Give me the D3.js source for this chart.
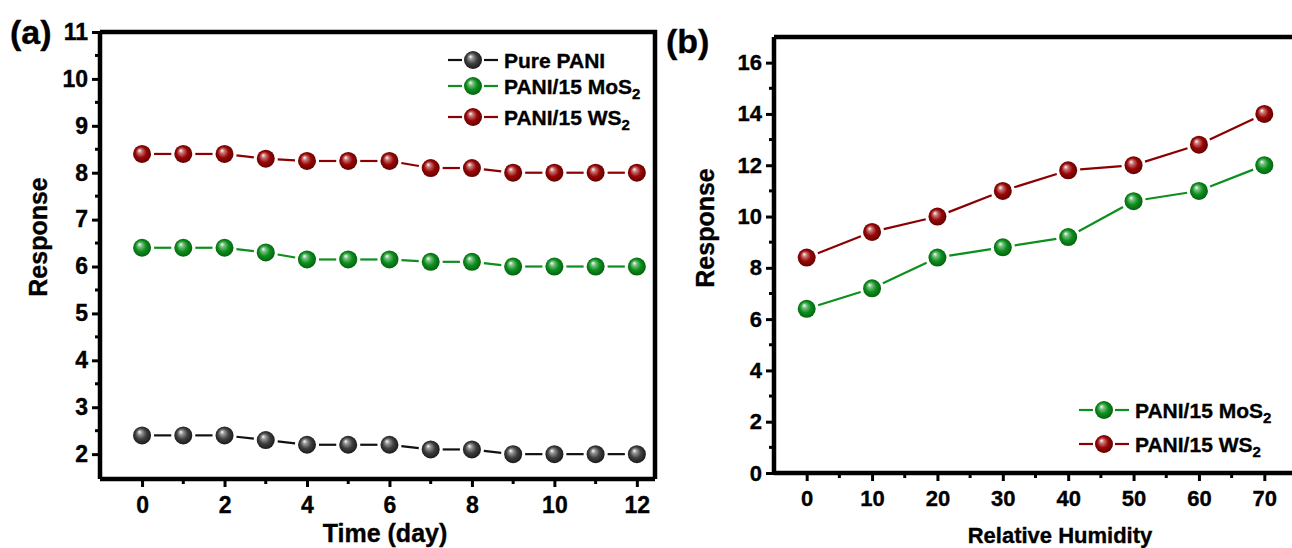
<!DOCTYPE html>
<html><head><meta charset="utf-8">
<script src="https://cdn.jsdelivr.net/npm/d3@7"></script>
<style>
html,body{margin:0;padding:0;background:#fff;}
svg{display:block;}
text{font-family:"Liberation Sans",Arial,sans-serif;font-weight:bold;fill:#000;stroke:#000;stroke-width:0.35px;}
</style></head>
<body>
<svg id="chart" width="1292" height="548"></svg>
<script>
// ---------- data ----------
const days = [0,1,2,3,4,5,6,7,8,9,10,11,12];
const purePani = [2.4,2.4,2.4,2.3,2.2,2.2,2.2,2.1,2.1,2.0,2.0,2.0,2.0];
const paniMoS2Time = [6.4,6.4,6.4,6.3,6.15,6.15,6.15,6.1,6.1,6.0,6.0,6.0,6.0];
const paniWS2Time = [8.4,8.4,8.4,8.3,8.25,8.25,8.25,8.1,8.1,8.0,8.0,8.0,8.0];
const humidity = [0,10,20,30,40,50,60,70];
const paniMoS2RH = [6.4,7.2,8.4,8.8,9.2,10.6,11.0,12.0];
const paniWS2RH = [8.4,9.4,10.0,11.0,11.8,12.0,12.8,14.0];
const ticksATimeX = [0,2,4,6,8,10,12];
const ticksAY = [2,3,4,5,6,7,8,9,10,11];
const ticksBX = [0,10,20,30,40,50,60,70];
const ticksBY = [0,2,4,6,8,10,12,14,16];

const svg = d3.select("#chart");
const defs = svg.append("defs");
const colors = {gray:{base:"#404040",dark:"#141414",line:"#111"},
                green:{base:"#0d8f1e",dark:"#045a0c",line:"#0d8f1e"},
                red:{base:"#9a0606",dark:"#5a0000",line:"#8b0000"}};
Object.entries(colors).forEach(([k,c])=>{
  const g = defs.append("radialGradient").attr("id","sph-"+k)
    .attr("cx","50%").attr("cy","50%").attr("r","55%").attr("fx","35%").attr("fy","30%");
  g.append("stop").attr("offset","0%").attr("stop-color","#fff");
  g.append("stop").attr("offset","22%").attr("stop-color",d3.interpolateRgb("#fff",c.base)(0.55));
  g.append("stop").attr("offset","55%").attr("stop-color",c.base);
  g.append("stop").attr("offset","100%").attr("stop-color",c.dark);
});

const R = 9;
function drawSeries(g, xs, ys, x, y, key){
  const c = colors[key];
  const pts = xs.map((d,i)=>[x(d), y(ys[i])]);
  for(let i=0;i<pts.length-1;i++){
    const [x1,y1]=pts[i],[x2,y2]=pts[i+1];
    const dx=x2-x1, dy=y2-y1, L=Math.hypot(dx,dy), g0=R+3;
    if(L<=2*g0) continue;
    g.append("line").attr("x1",x1+dx/L*g0).attr("y1",y1+dy/L*g0)
      .attr("x2",x2-dx/L*g0).attr("y2",y2-dy/L*g0)
      .attr("stroke",c.line).attr("stroke-width",2.2);
  }
  g.selectAll(null).data(pts).enter().append("circle")
    .attr("cx",d=>d[0]).attr("cy",d=>d[1]).attr("r",R)
    .attr("fill","url(#sph-"+key+")");
}

function legendItem(g, x0, yc, key, label, sub){
  const c = colors[key];
  g.append("line").attr("x1",x0).attr("x2",x0+14).attr("y1",yc).attr("y2",yc).attr("stroke",c.line).attr("stroke-width",2.2);
  g.append("line").attr("x1",x0+36).attr("x2",x0+50).attr("y1",yc).attr("y2",yc).attr("stroke",c.line).attr("stroke-width",2.2);
  g.append("circle").attr("cx",x0+25).attr("cy",yc).attr("r",R).attr("fill","url(#sph-"+key+")");
  const t = g.append("text").attr("x",x0+56).attr("y",yc+7.5).style("font-size","21px").text(label);
  if(sub){ t.append("tspan").attr("dy",5).style("font-size","15px").text(sub); }
}

function panel(opt){
  const g = svg.append("g");
  const x = d3.scaleLinear().domain(opt.xDom).range([opt.left, opt.right]);
  const y = d3.scaleLinear().domain(opt.yDom).range([opt.bottom, opt.top]);
  opt.xMinor.forEach(v=>g.append("line").attr("x1",x(v)).attr("x2",x(v)).attr("y1",opt.bottom).attr("y2",opt.bottom+5).attr("stroke","#000").attr("stroke-width",3));
  opt.yMinor.forEach(v=>g.append("line").attr("y1",y(v)).attr("y2",y(v)).attr("x1",opt.left).attr("x2",opt.left-5).attr("stroke","#000").attr("stroke-width",3));
  const xa = g.append("g").attr("transform",`translate(0,${opt.bottom})`)
    .call(d3.axisBottom(x).tickValues(opt.xTicks).tickSize(8).tickPadding(opt.xPad).tickSizeOuter(0));
  const ya = g.append("g").attr("transform",`translate(${opt.left},0)`)
    .call(d3.axisLeft(y).tickValues(opt.yTicks).tickSize(8).tickPadding(4).tickSizeOuter(0));
  [xa,ya].forEach(a=>{
    a.attr("font-size",null).attr("font-family",null);
    a.select(".domain").remove();
    a.selectAll(".tick line").attr("stroke","#000").attr("stroke-width",3);
    a.selectAll(".tick text").style("font-size",opt.tickFont).attr("fill","#000");
  });
  g.append("path").attr("d",`M${opt.left},${opt.bottom}H${opt.frameRight}`).attr("stroke","#000").attr("stroke-width",4.5).attr("fill","none");
  g.append("path").attr("d",`M${opt.left},${opt.bottom}V${opt.top}`).attr("stroke","#000").attr("stroke-width",4.5).attr("fill","none");
  g.append("path").attr("d",`M${opt.left},${opt.top}H${opt.frameRight}`+(opt.frameRight<1292?`V${opt.bottom}`:"")).attr("stroke","#000").attr("stroke-width",4.5).attr("fill","none").attr("stroke-linejoin","miter");
  return {g,x,y};
}

// ---------- panel (a) ----------
const A = panel({left:100,right:655,frameRight:655,top:32,bottom:479,
  xDom:[-1.02,12.44], yDom:[1.47,11], tickFont:"23px", xPad:10,
  xTicks:ticksATimeX, yTicks:ticksAY,
  xMinor:[1,3,5,7,9,11], yMinor:[2.5,3.5,4.5,5.5,6.5,7.5,8.5,9.5,10.5]});
drawSeries(A.g, days, purePani, A.x, A.y, "gray");
drawSeries(A.g, days, paniMoS2Time, A.x, A.y, "green");
drawSeries(A.g, days, paniWS2Time, A.x, A.y, "red");
legendItem(A.g, 448, 60, "gray", "Pure PANI");
legendItem(A.g, 448, 86, "green", "PANI/15 MoS", "2");
legendItem(A.g, 448, 117, "red", "PANI/15 WS", "2");
svg.append("text").attr("x",385).attr("y",542).attr("text-anchor","middle").style("font-size","25px").text("Time (day)");
svg.append("text").attr("transform","translate(47,237) rotate(-90)").attr("text-anchor","middle").style("font-size","25px").text("Response");
svg.append("text").attr("x",10).attr("y",44).style("font-size","34px").text("(a)");

// ---------- panel (b) ----------
const B = panel({left:774,right:1297,frameRight:1300,top:37,bottom:473,
  xDom:[-5,75], yDom:[0,17], tickFont:"22px", xPad:9,
  xTicks:ticksBX, yTicks:ticksBY,
  xMinor:[5,15,25,35,45,55,65], yMinor:[1,3,5,7,9,11,13,15]});
drawSeries(B.g, humidity, paniMoS2RH, B.x, B.y, "green");
drawSeries(B.g, humidity, paniWS2RH, B.x, B.y, "red");
legendItem(B.g, 1079, 410, "green", "PANI/15 MoS", "2");
legendItem(B.g, 1079, 444, "red", "PANI/15 WS", "2");
svg.append("text").attr("x",1060).attr("y",543).attr("text-anchor","middle").style("font-size","22px").text("Relative Humidity");
svg.append("text").attr("transform","translate(714,228) rotate(-90)").attr("text-anchor","middle").style("font-size","25px").text("Response");
svg.append("text").attr("x",666).attr("y",53).style("font-size","34px").text("(b)");
</script>
</body></html>
